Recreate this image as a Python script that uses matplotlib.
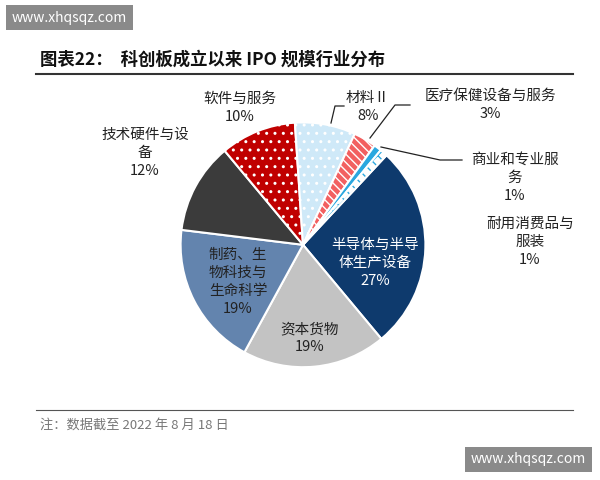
import matplotlib.pyplot as plt
import matplotlib.colors as mcolors

plt.rcParams['font.family'] = ['Noto Sans CJK SC', 'DejaVu Sans']
plt.rcParams['hatch.linewidth'] = 1.0

labels = ['半导体与半导\n体生产设备', '资本货物', '制药、生\n物科技与\n生命科学', '技术硬件与设\n备',
          '软件与服务', '材料Ⅱ', '医疗保健设备与服务', '商业和专业服\n务', '耐用消费品与\n服装']
values = [27, 19, 19, 12, 10, 8, 3, 1, 1]
colors = ['#0e3a6d', '#c3c3c3', '#6384ae', '#3b3b3b', '#c00000', '#cfe9f8', '#f26060', '#2aa7df', '#ffffff']
hatches = [None, None, None, None, '..', '..', '\\\\\\\\', None, 'xxx']
hatch_colors = [None, None, None, None, 'white', 'white', 'white', None, '#2aa7df']

fig = plt.figure(figsize=(6, 4.8), dpi=100)
fig.patch.set_facecolor('white')


def px(x, y):
    return x / 600, 1 - y / 480


fig.text(*px(40, 60), '图表22：  科创板成立以来 IPO 规模行业分布', fontsize=12.5, fontweight='bold',
         color='#111111', va='center')
fig.add_artist(plt.Line2D([0.06, 0.955], [0.845, 0.845], color='#333333', lw=1.5))
fig.add_artist(plt.Line2D([0.06, 0.955], [0.145, 0.145], color='#555555', lw=0.8))
fig.text(*px(40, 425), '注：数据截至 2022 年 8 月 18 日', fontsize=9.5, color='#777777', va='center')

ax = fig.add_axes([0.30, 0.235, 0.41, 0.51])
wedges, _ = ax.pie(values, colors=colors, startangle=47, counterclock=False,
                   wedgeprops=dict(edgecolor='white', linewidth=1.5))
for w, h, hc in zip(wedges, hatches, hatch_colors):
    if h:
        w.set_hatch(h)
        w._hatch_color = mcolors.to_rgba(hc)
ax.set_aspect('equal')
ax.set_xlim(-1, 1)
ax.set_ylim(-1, 1)

kw = dict(ha='center', va='center', fontsize=10.5, linespacing=1.35)
fig.text(*px(375, 263), labels[0] + '\n27%', color='white', **kw)
fig.text(*px(310, 338), labels[1] + '\n19%', color='#222222', **kw)
fig.text(*px(238, 282), labels[2] + '\n19%', color='#222222', **kw)
fig.text(*px(145, 153), labels[3] + '\n12%', color='#222222', **kw)
fig.text(*px(240, 108), labels[4] + '\n10%', color='#222222', **kw)
fig.text(*px(368, 107), labels[5] + '\n8%', color='#222222', **kw)
fig.text(*px(490, 105), labels[6] + '\n3%', color='#222222', **kw)
fig.text(*px(515, 178), labels[7] + '\n1%', color='#222222', **kw)
fig.text(*px(530, 242), labels[8] + '\n1%', color='#222222', **kw)

def leader(xs, ys):
    pts = [px(x, y) for x, y in zip(xs, ys)]
    fig.add_artist(plt.Line2D([p[0] for p in pts], [p[1] for p in pts],
                              color='#222222', lw=0.9))

leader([331, 335, 344], [123, 106, 106])
leader([370, 395, 410], [138, 105, 105])
leader([381, 440, 462], [147, 160, 160])

# watermarks
fig.text(0.02, 0.955, 'www.xhqsqz.com', fontsize=10, color='white',
         bbox=dict(boxstyle='square,pad=0.4', fc='#8a8a8a', ec='none'))
fig.text(0.785, 0.035, 'www.xhqsqz.com', fontsize=10, color='white',
         bbox=dict(boxstyle='square,pad=0.4', fc='#8a8a8a', ec='none'))

fig.savefig('out.png', dpi=100, facecolor='white')
